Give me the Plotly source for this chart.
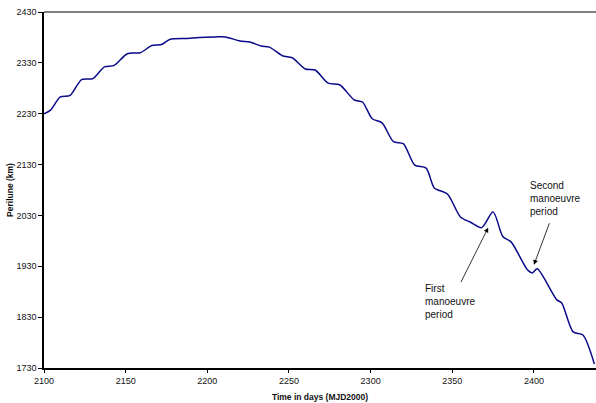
import plotly.graph_objects as go

# Time in days (MJD2000)
days = [2100, 2104, 2110, 2116, 2123, 2130, 2137, 2143, 2151, 2159, 2166, 2172,
        2177, 2188, 2195, 2205, 2211, 2220, 2226, 2233, 2238, 2246, 2252, 2260,
        2266, 2274, 2281, 2290, 2295, 2301, 2307, 2314, 2320, 2327, 2334, 2339,
        2347, 2355, 2361, 2368, 2375, 2381, 2386, 2396, 2399, 2402, 2414, 2417,
        2424, 2430, 2437]
# Perilune (km)
perilune = [2230, 2237, 2263, 2266, 2297, 2299, 2322, 2325, 2348, 2350, 2364, 2366,
            2376, 2378, 2380, 2381, 2381, 2373, 2371, 2363, 2361, 2344, 2340, 2318,
            2316, 2290, 2287, 2257, 2253, 2220, 2212, 2175, 2171, 2129, 2123, 2084,
            2072, 2027, 2017, 2006, 2037, 1988, 1978, 1923, 1917, 1925, 1864, 1858,
            1801, 1795, 1738]

x_ticks = [2100, 2150, 2200, 2250, 2300, 2350, 2400]
y_ticks = [1730, 1830, 1930, 2030, 2130, 2230, 2330, 2430]

FONT = "Liberation Sans, Arial, sans-serif"

fig = go.Figure()
fig.add_trace(go.Scatter(x=days, y=perilune, mode="lines",
                         line=dict(color="#0a0a8a", width=1.5, shape="spline", smoothing=0.75),
                         showlegend=False, hoverinfo="skip"))

fig.update_layout(
    width=596, height=403,
    margin=dict(l=44, r=0, t=12, b=35),
    paper_bgcolor="white", plot_bgcolor="white",
    font=dict(family=FONT, size=9, color="#111111"),
    xaxis=dict(range=[2100, 2438], tickvals=x_ticks, showgrid=False, zeroline=False,
               showline=True, linecolor="black", linewidth=2,
               ticks="outside", ticklen=3, tickcolor="black", tickwidth=1,
               tickfont=dict(size=9),
               title=dict(text="<b>Time in days (MJD2000)</b>", font=dict(size=8.5), standoff=9)),
    yaxis=dict(range=[1730, 2430], tickvals=y_ticks, showgrid=False, zeroline=False,
               showline=True, linecolor="black", linewidth=1.5,
               ticks="outside", ticklen=4, tickcolor="black", tickwidth=1,
               tickfont=dict(size=9),
               title=dict(text="<b>Perilune (km)</b>", font=dict(size=8.5), standoff=1)),
    shapes=[dict(type="line", xref="paper", yref="paper", x0=0, x1=1, y0=1, y1=1,
                 line=dict(color="#808080", width=2))],
)

fig.add_annotation(x=2372, y=2006, ax=-28, ay=56, axref="pixel", ayref="pixel",
                   text="", showarrow=True, arrowhead=2, arrowsize=1.2, arrowwidth=0.8,
                   arrowcolor="black")
fig.add_annotation(x=2400, y=1933, ax=16, ay=-43, axref="pixel", ayref="pixel",
                   text="", showarrow=True, arrowhead=2, arrowsize=1.2, arrowwidth=0.8,
                   arrowcolor="black")
fig.add_annotation(xref="paper", yref="paper", x=(423 - 44) / 552, y=(368 - 281) / 356,
                   xanchor="left", yanchor="top", align="left", showarrow=False,
                   text="First<br>manoeuvre<br>period", font=dict(size=10, color="#111111"))
fig.add_annotation(xref="paper", yref="paper", x=(528 - 44) / 552, y=(368 - 178) / 356,
                   xanchor="left", yanchor="top", align="left", showarrow=False,
                   text="Second<br>manoeuvre<br>period", font=dict(size=10, color="#111111"))

fig.write_html("out.html")
